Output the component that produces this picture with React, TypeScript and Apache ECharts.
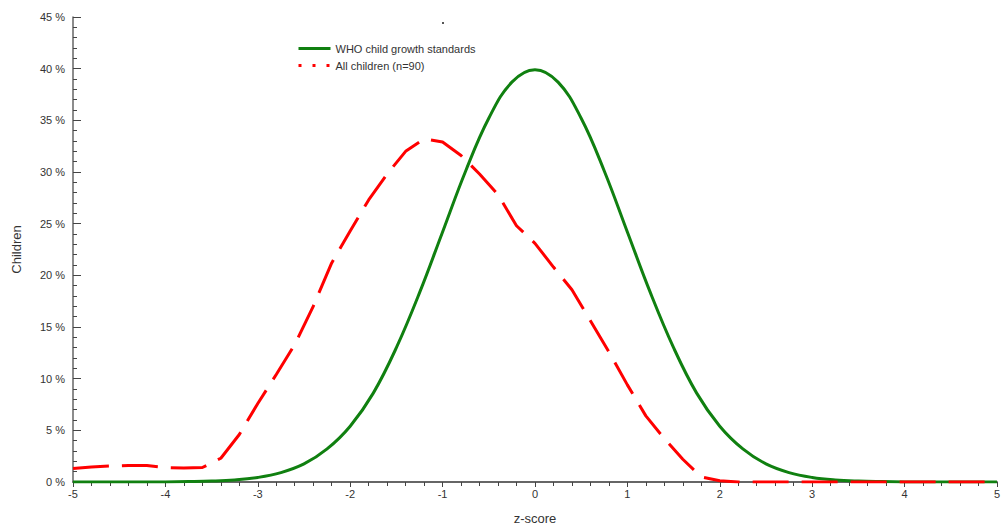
import React, { useEffect, useRef } from "react";
import * as echarts from "echarts";

const zGreen = [-5, -4.5, -4, -3.75, -3.5, -3.25, -3, -2.75, -2.5, -2.25, -2, -1.75, -1.5, -1.25, -1, -0.75, -0.5, -0.25, 0, 0.25, 0.5, 0.75, 1, 1.25, 1.5, 1.75, 2, 2.25, 2.5, 2.75, 3, 3.25, 3.5, 3.75, 4, 4.5, 5];
const greenVals = [0, 0, 0.01, 0.04, 0.09, 0.2, 0.44, 0.91, 1.75, 3.2, 5.4, 8.6, 13.0, 18.3, 24.2, 30.1, 35.2, 38.7, 39.9, 38.7, 35.2, 30.1, 24.2, 18.3, 13.0, 8.6, 5.4, 3.2, 1.75, 0.91, 0.44, 0.2, 0.09, 0.04, 0.01, 0, 0];

const zRed = [-5, -4.8, -4.6, -4.4, -4.2, -4.0, -3.8, -3.6, -3.4, -3.2, -3.0, -2.8, -2.6, -2.4, -2.2, -2.0, -1.8, -1.6, -1.4, -1.2, -1.0, -0.8, -0.6, -0.4, -0.2, 0.0, 0.2, 0.4, 0.6, 0.8, 1.0, 1.2, 1.4, 1.6, 1.8, 2.0, 2.2, 3, 4, 5];
const redVals = [1.3, 1.45, 1.55, 1.6, 1.6, 1.4, 1.35, 1.4, 2.3, 4.6, 7.6, 10.4, 13.3, 17.0, 21.2, 24.3, 27.3, 29.8, 32.0, 33.2, 32.9, 31.6, 29.8, 27.8, 24.8, 23.1, 20.8, 18.6, 15.6, 12.6, 9.4, 6.4, 4.2, 2.2, 0.5, 0.12, 0, 0, 0, 0];

const seriesNames = ["WHO child growth standards", "All children (n=90)"];
const xAxisName = "z-score";
const yAxisName = "Children";

export default function App() {
  const ref = useRef<HTMLDivElement>(null);
  useEffect(() => {
    if (!ref.current) return;
    const chart = echarts.init(ref.current, undefined, { renderer: "svg" });
    const font = "Liberation Sans, Arial, sans-serif";
    chart.setOption({
      animation: false,
      backgroundColor: "#fff",
      grid: { left: 73, right: 5, top: 17, bottom: 47, containLabel: false },
      legend: {
        orient: "vertical",
        left: 292,
        top: 38,
        itemWidth: 32,
        itemHeight: 12,
        itemGap: 6,
        textStyle: { fontFamily: font, fontSize: 11, color: "#333" },
        data: [
          {
            name: seriesNames[0],
            itemStyle: { opacity: 0 },
            lineStyle: { color: "#108010", width: 3, type: "solid", opacity: 1 },
          },
          {
            name: seriesNames[1],
            itemStyle: { opacity: 0 },
            lineStyle: { color: "#ff0000", width: 3, type: [3, 11], opacity: 1 },
          },
        ],
      },
      xAxis: {
        type: "value",
        min: -5,
        max: 5,
        interval: 1,
        name: xAxisName,
        nameLocation: "middle",
        nameGap: 30,
        nameTextStyle: { fontFamily: font, fontSize: 13, color: "#333" },
        axisLine: { onZero: false, lineStyle: { color: "#666", width: 2 } },
        axisTick: { show: true, inside: false, length: 5, lineStyle: { color: "#444" } },
        minorTick: { show: true, splitNumber: 5, length: 4, lineStyle: { color: "#444" } },
        splitLine: { show: false },
        axisLabel: { fontFamily: font, fontSize: 11, color: "#333", margin: 6 },
      },
      yAxis: {
        type: "value",
        min: 0,
        max: 45,
        interval: 5,
        name: yAxisName,
        nameLocation: "middle",
        nameGap: 50,
        nameTextStyle: { fontFamily: font, fontSize: 13, color: "#333" },
        axisLine: { show: true, onZero: false, lineStyle: { color: "#666", width: 1.5 } },
        axisTick: { show: true, inside: true, length: 8, lineStyle: { color: "#444" } },
        minorTick: { show: true, splitNumber: 5, length: 4, lineStyle: { color: "#444" } },
        splitLine: { show: false },
        axisLabel: {
          fontFamily: font,
          fontSize: 11,
          color: "#333",
          margin: 8,
          formatter: (v: number) => `${v} %`,
        },
      },
      series: [
        {
          name: seriesNames[0],
          type: "line",
          data: zGreen.map((z, i) => [z, greenVals[i]]),
          smooth: 0.4,
          showSymbol: false,
          symbol: "none",
          lineStyle: { color: "#108010", width: 3 },
          itemStyle: { color: "#108010" },
          z: 2,
        },
        {
          name: seriesNames[1],
          type: "line",
          data: zRed.map((z, i) => [z, redVals[i]]),
          smooth: false,
          showSymbol: false,
          symbol: "none",
          lineStyle: { color: "#ff0000", width: 3, type: [36, 13] },
          itemStyle: { color: "#ff0000" },
          z: 3,
        },
      ],
      graphic: [
        { type: "rect", shape: { x: 442, y: 22, width: 2, height: 2 }, style: { fill: "#555" } },
      ],
    });
    return () => chart.dispose();
  }, []);
  return <div ref={ref} style={{ width: 1003, height: 530, position: "absolute", left: 0, top: 0 }} />;
}
